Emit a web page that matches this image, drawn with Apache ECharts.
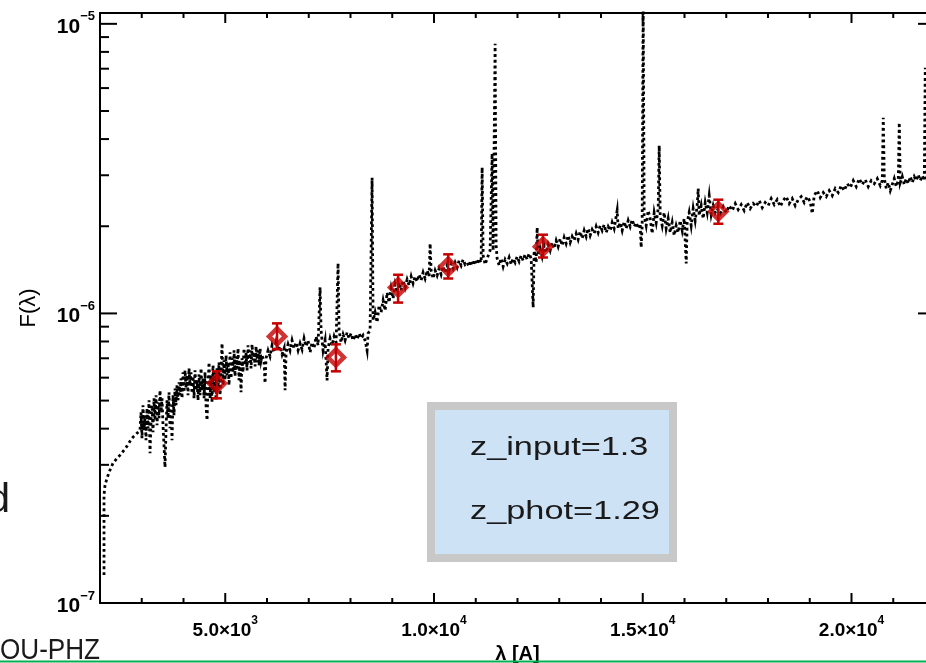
<!DOCTYPE html>
<html><head><meta charset="utf-8">
<script src="https://cdn.jsdelivr.net/npm/echarts@6/dist/echarts.min.js"></script>
<style>html,body{margin:0;padding:0;background:#fff;overflow:hidden}#chart{width:926px;height:663px}</style>
</head><body><div id="chart"></div>
<script>
// Model spectrum: wavelength [Angstrom] and flux [units of 1e-6]
const wavelength = [
2096,2096,2096,2096,2120,2168,2240,2311,2407,2479,2575,2647,2719,2791,2887,2958,
2982,3006,3030,3054,3078,3102,3126,3150,3174,3198,3222,3246,3270,3294,3318,3342,3366,3390,3414,3438,3462,3486,3509,3533,3557,3581,3605,3629,3653,3677,3701,3725,3749,3773,3797,3821,3845,3869,3893,3917,
3941,3965,3989,4013,4037,4061,4085,4108,4132,4156,4180,4204,4228,4252,4276,4300,4324,4348,4372,4396,4420,4444,4468,4492,4516,4540,4564,4588,4612,4636,4660,4684,4707,4731,4755,4779,4803,4827,4851,4875,4899,
4923,4947,4971,4995,5019,5043,5067,5091,5115,5139,5163,5187,5211,5235,5259,5283,5306,5330,5354,5378,5402,5426,5450,5474,5498,5522,5546,5570,5594,5618,5642,5666,5690,5714,5738,5762,5786,5810,5834,5858,
5882,5929,5953,5977,6025,6073,6121,6169,6217,6265,6313,6361,6409,6433,6457,6504,6552,6600,6648,6696,6744,6792,6840,6888,6936,6984,7032,7080,7127,7175,7223,7271,7295,7343,7391,7439,7463,7511,
7559,7607,7655,7702,7726,7774,7822,7870,7918,7966,8014,8062,8110,8158,8206,8254,8301,8349,8397,8421,8469,8517,8541,
8589,8637,8685,8733,8781,8829,8877,8924,8972,9020,9068,
9116,9164,9212,9260,9308,9356,9404,9452,9499,9547,9595,9643,9691,9739,9787,9835,9883,9907,9931,9979,10027,10075,10122,10170,10218,10266,10314,10362,10410,10458,10506,10554,10602,10650,10697,10745,10793,10841,10889,10937,10985,11033,11081,11129,11153,11177,11225,11273,11344,11392,11416,11464,11488,11512,
11560,11608,11656,11704,11752,11800,11848,11895,11943,11991,12039,12087,12135,12183,12231,12279,12327,12375,12399,12447,12471,12495,12542,12590,12638,12686,
12734,12782,12830,12878,12926,12974,13022,13070,13117,13165,13213,13261,13309,13357,13405,13453,13501,13549,13597,13645,13692,13740,13788,13836,13884,13932,13980,14028,14076,14124,14172,14220,14267,14315,14387,14411,14459,14507,14555,14603,14651,14699,14747,14795,14843,14890,14938,14962,14986,15010,15034,
15082,15130,15178,15226,15274,15322,15370,15394,15418,15466,15514,15561,15609,15657,15705,15753,15801,15849,15897,15945,15993,16041,16064,16112,16160,16208,16256,16304,16328,16352,16400,16448,16496,16544,16592,16640,16687,16735,16783,
16855,16927,16999,17071,17143,17215,17286,17358,17430,17502,17574,17646,17718,17790,17862,17933,18005,18077,18149,18221,18293,18365,18437,18508,18580,18652,18724,18796,18868,18940,19012,19060,19107,19179,19251,19323,19395,19467,19539,19611,19683,19754,19826,19898,19970,
20042,20114,20186,20258,20329,20401,20473,20545,20617,20689,20737,20761,20785,20833,20880,20928,20976,21024,21072,21120,21144,21168,21216,21264,21312,21360,21408,21456,21503,21551,21599,21647,21695,21743,21767,21791,21839,21887,21959,22007
];
const flux_1e6 = [
0.125,0.155,0.193,0.236,0.255,0.270,0.288,0.304,0.316,0.324,0.337,0.348,0.362,0.374,0.386,0.395,
0.4557,0.3707,0.4817,0.3950,0.4449,0.3648,0.4704,0.4013,0.5012,0.3291,0.4276,0.4817,0.3888,0.5092,0.4276,0.5215,0.4110,0.4933,0.4345,0.5426,0.4557,0.5092,0.4110,0.3506,0.2944,0.3950,0.5012,0.4345,0.5341,0.4013,0.4817,0.3648,0.5215,0.4449,0.5513,0.4817,0.5646,0.5012,0.5782,0.5215,
0.5969,0.5092,0.6260,0.5341,0.6360,0.5513,0.6113,0.5215,0.6462,0.5646,0.6260,0.5299,0.6064,0.5092,0.6360,0.5426,0.5875,0.5012,0.6161,0.5215,0.6462,0.5426,0.5969,0.5092,0.6260,0.4817,0.4276,0.5646,0.6777,0.5092,0.6113,0.4933,0.6618,0.5341,0.6260,0.5012,0.6462,0.5426,0.6777,0.5215,0.6113,
0.7881,0.5646,0.6886,0.5875,0.7164,0.6113,0.6777,0.5646,0.7337,0.5969,0.6996,0.6260,0.7455,0.6064,0.7108,0.6462,0.7574,0.5875,0.6886,0.5341,0.6996,0.6260,0.7574,0.6618,0.7337,0.6360,0.7756,0.6777,0.7455,0.6462,0.7818,0.6886,0.7337,0.6565,0.7695,0.6777,0.7455,0.6618,0.7574,0.6886,
0.716,0.678,0.574,0.700,0.745,0.711,0.776,0.734,0.794,0.745,0.770,0.722,0.757,0.543,0.734,0.782,0.745,0.807,0.757,0.794,0.745,0.788,0.751,0.820,0.770,0.807,0.734,0.794,0.757,0.833,0.776,1.23,0.874,0.745,0.807,0.587,0.757,0.820,
0.776,0.833,0.794,1.49,0.874,0.794,0.846,0.807,0.860,0.820,0.853,0.807,0.846,0.813,0.853,0.820,0.840,0.807,0.745,0.853,0.874,2.94,0.946,
1.008,0.931,1.066,1.008,1.109,1.024,1.181,1.091,1.220,1.126,1.259,
1.181,1.279,1.200,1.300,1.229,1.310,1.249,1.342,1.269,1.342,1.289,1.363,1.300,1.385,1.320,1.407,1.342,1.743,1.407,1.320,1.407,1.352,1.429,1.363,1.452,1.385,1.464,1.407,1.487,1.429,1.499,1.441,1.523,1.464,1.535,1.476,1.499,1.452,1.523,1.464,1.535,1.476,1.548,1.499,3.19,1.585,1.476,1.548,1.649,3.56,1.649,8.53,1.716,1.548,
1.464,1.548,1.452,1.535,1.487,1.560,1.476,1.548,1.499,1.572,1.511,1.585,1.523,1.598,1.535,1.610,1.548,1.049,1.649,1.499,1.980,1.585,1.676,1.572,1.716,1.623,
1.730,1.649,1.757,1.676,1.785,1.702,1.814,1.716,1.828,1.743,1.858,1.757,1.843,1.785,1.887,1.800,1.918,1.814,1.933,1.843,1.964,1.858,1.948,1.887,1.995,1.902,2.011,1.933,2.027,1.902,1.995,1.933,2.060,1.964,2.266,1.964,2.060,1.933,2.076,1.964,2.093,1.995,2.109,1.995,2.060,1.964,2.043,1.689,2.011,12,2.177,
2.011,2.266,2.126,1.887,2.230,2.060,2.302,3.80,2.177,2.011,2.230,1.964,2.126,1.902,2.060,1.858,2.011,1.902,2.093,1.933,2.126,1.487,2.060,2.230,2.011,2.302,2.093,2.357,2.698,2.177,2.357,2.126,2.414,2.230,2.552,2.195,2.357,2.230,2.302,
2.212,2.339,2.230,2.357,2.266,2.395,2.284,2.376,2.266,2.414,2.302,2.395,2.339,2.453,2.320,2.414,2.357,2.492,2.376,2.472,2.339,2.453,2.532,2.395,2.492,2.357,2.472,2.532,2.414,2.532,2.433,2.212,2.552,2.655,2.512,2.614,2.532,2.655,2.552,2.698,2.614,2.763,2.655,2.807,2.719,
2.875,2.741,2.921,2.785,2.898,2.741,2.875,2.807,2.921,2.763,2.875,4.74,2.921,2.698,2.830,2.655,2.785,2.921,2.741,2.875,4.56,2.830,2.968,2.785,2.921,2.807,2.968,2.830,2.968,2.875,3.015,2.875,2.991,2.875,7.05,2.968,2.852,2.991,2.921,3.015
];
// Photometric points (flux in units of 1e-6)
const photWavelength = [4800, 6240, 7650, 9140, 10340, 12610, 16810];
const photFlux_1e6 = [0.574, 0.833, 0.705, 1.23, 1.45, 1.70, 2.25];
const photErrLow_1e6 = [0.509, 0.752, 0.631, 1.09, 1.32, 1.56, 2.04];
const photErrHigh_1e6 = [0.631, 0.924, 0.782, 1.36, 1.60, 1.87, 2.47];
// Axes
const xRange = [2000, 22000];
const yRange = [1e-7, 1.09e-5];
const xMajorTicks = [5000, 10000, 15000, 20000];
const xTickMantissa = ['5.0×10', '1.0×10', '1.5×10', '2.0×10'];
const xTickExponent = ['3', '4', '4', '4'];
const xMinorTicks = [3000,4000,6000,7000,8000,9000,11000,12000,13000,14000,16000,17000,18000,19000,21000];
const yMajorTicks = [1e-7, 1e-6, 1e-5];
const yTickExponent = ['−7', '−6', '−5'];
const yMinorTicks = [2e-7,3e-7,4e-7,5e-7,6e-7,7e-7,8e-7,9e-7,2e-6,3e-6,4e-6,5e-6,6e-6,7e-6,8e-6,9e-6];
const xTitle = 'λ [A]';
const yTitle = 'F(λ)';
const boxLines = ['z_input=1.3', 'z_phot=1.29'];
const slideTexts = ['d', 'OU-PHZ'];

const spectrum = wavelength.map((w, i) => [w, flux_1e6[i] * 1e-6]);
const phot = photWavelength.map((w, i) => [w, photFlux_1e6[i] * 1e-6]);
const photErr = photWavelength.map((w, i) => [w, photErrLow_1e6[i] * 1e-6, photErrHigh_1e6[i] * 1e-6]);

const FONT = 'Liberation Sans';
const RED = '#c40000';

function xTicks(values, len) {
  return {
    type: 'custom', silent: true, z: 6, clip: false,
    data: values.map(v => [v, yRange[0]]),
    renderItem: (params, api) => {
      const cs = params.coordSys;
      const x = api.coord([api.value(0), yRange[0]])[0];
      const st = { stroke: '#000', lineWidth: 2 };
      return { type: 'group', children: [
        { type: 'line', shape: { x1: x, y1: cs.y + cs.height, x2: x, y2: cs.y + cs.height - len }, style: st },
        { type: 'line', shape: { x1: x, y1: cs.y, x2: x, y2: cs.y + len }, style: st }
      ]};
    }
  };
}
function yTicks(values, len) {
  return {
    type: 'custom', silent: true, z: 6, clip: false,
    data: values.map(v => [xRange[0], v]),
    renderItem: (params, api) => {
      const cs = params.coordSys;
      const y = api.coord([xRange[0], api.value(1)])[1];
      const st = { stroke: '#000', lineWidth: 2 };
      return { type: 'group', children: [
        { type: 'line', shape: { x1: cs.x, y1: y, x2: cs.x + len, y2: y }, style: st },
        { type: 'line', shape: { x1: cs.x + cs.width, y1: y, x2: cs.x + cs.width - len, y2: y }, style: st }
      ]};
    }
  };
}

const chart = echarts.init(document.getElementById('chart'), null, { renderer: 'canvas' });
chart.setOption({
  animation: false,
  backgroundColor: '#fff',
  grid: { left: 100, top: 13, width: 835, height: 590, containLabel: false, outerBoundsMode: 'none' },
  xAxis: [{
    type: 'value', position: 'bottom', min: xRange[0], max: xRange[1], interval: 1000,
    axisLine: { show: true, onZero: false, lineStyle: { color: '#000', width: 2 } },
    axisTick: { show: false }, splitLine: { show: false },
    axisLabel: {
      margin: 12, color: '#000',
      formatter: v => {
        const i = xMajorTicks.findIndex(t => Math.abs(t - v) < 1e-6);
        return i < 0 ? '' : '{b|' + xTickMantissa[i] + '}{s|' + xTickExponent[i] + '}';
      },
      rich: {
        b: { fontSize: 19, fontWeight: 'bold', fontFamily: FONT, color: '#000', lineHeight: 25, verticalAlign: 'bottom' },
        s: { fontSize: 12, fontWeight: 'bold', fontFamily: FONT, color: '#000', lineHeight: 12, verticalAlign: 'top' }
      }
    },
    name: xTitle, nameLocation: 'middle', nameGap: 37,
    nameTextStyle: { fontSize: 20, fontWeight: 'bold', fontFamily: FONT, color: '#000' }
  }, {
    type: 'value', position: 'top', min: xRange[0], max: xRange[1], interval: 1000,
    axisLine: { show: true, onZero: false, lineStyle: { color: '#000', width: 2 } },
    axisTick: { show: false }, axisLabel: { show: false }, splitLine: { show: false }
  }],
  yAxis: [{
    type: 'log', logBase: 10, position: 'left', min: yRange[0], max: yRange[1],
    axisLine: { show: true, lineStyle: { color: '#000', width: 2 } },
    axisTick: { show: false }, splitLine: { show: false }, minorTick: { show: false },
    axisLabel: {
      margin: 5, color: '#000',
      formatter: v => {
        const i = yMajorTicks.findIndex(t => Math.abs(t - v) / t < 1e-6);
        return i < 0 ? '' : '{b|10}{s|' + yTickExponent[i] + '}';
      },
      rich: {
        b: { fontSize: 21, fontWeight: 'bold', fontFamily: FONT, color: '#000', lineHeight: 27, verticalAlign: 'bottom' },
        s: { fontSize: 13, fontWeight: 'bold', fontFamily: FONT, color: '#000', lineHeight: 13, verticalAlign: 'top' }
      }
    },
    name: yTitle, nameLocation: 'middle', nameRotate: 90, nameGap: 60,
    nameTextStyle: { fontSize: 22, fontFamily: FONT, color: '#000' }
  }, {
    type: 'log', logBase: 10, position: 'right', min: yRange[0], max: yRange[1],
    axisLine: { show: true, lineStyle: { color: '#000', width: 2 } },
    axisTick: { show: false }, axisLabel: { show: false }, splitLine: { show: false }
  }],
  series: [
    {
      type: 'line', data: spectrum, showSymbol: false, symbol: 'none', clip: true, z: 2,
      lineStyle: { color: '#000', width: 2.8, type: [2.8, 3.0], cap: 'butt', join: 'miter' },
      silent: true
    },
    xTicks(xMajorTicks, 10), xTicks(xMinorTicks, 5),
    yTicks(yMajorTicks, 17), yTicks(yMinorTicks, 9),
    {
      type: 'custom', silent: true, z: 4, data: photErr,
      renderItem: (params, api) => {
        const lo = api.coord([api.value(0), api.value(1)]);
        const hi = api.coord([api.value(0), api.value(2)]);
        const st = { stroke: RED, lineWidth: 2.5 };
        const c = 5;
        return { type: 'group', children: [
          { type: 'line', shape: { x1: lo[0], y1: lo[1], x2: hi[0], y2: hi[1] }, style: st },
          { type: 'line', shape: { x1: lo[0] - c, y1: lo[1], x2: lo[0] + c, y2: lo[1] }, style: st },
          { type: 'line', shape: { x1: hi[0] - c, y1: hi[1], x2: hi[0] + c, y2: hi[1] }, style: st }
        ]};
      }
    },
    {
      type: 'scatter', data: phot, symbol: 'diamond', symbolSize: 16, z: 5, silent: true,
      itemStyle: { color: 'rgba(255,255,255,0)', borderColor: RED, borderWidth: 4.5 }
    }
  ],
  graphic: [
    { type: 'rect', shape: { x: 431, y: 406, width: 242, height: 152 },
      style: { fill: '#cee2f6', stroke: '#c8c8c8', lineWidth: 8 }, z: 100 },
    { type: 'text', x: 470, y: 448, scaleX: 1.32, z: 101,
      style: { text: boxLines[0], font: '26px "Liberation Sans"', fill: '#1a1a1a', align: 'left', verticalAlign: 'middle' } },
    { type: 'text', x: 470, y: 512, scaleX: 1.32, z: 101,
      style: { text: boxLines[1], font: '26px "Liberation Sans"', fill: '#1a1a1a', align: 'left', verticalAlign: 'middle' } },
    { type: 'text', x: 10, y: 521, z: 101,
      style: { text: slideTexts[0], font: '41px "Liberation Sans"', fill: '#1a1a1a', align: 'right', verticalAlign: 'bottom' } },
    { type: 'text', x: 0, y: 666, scaleX: 0.87, z: 101,
      style: { text: slideTexts[1], font: '30px "Liberation Sans"', fill: '#1a1a1a', align: 'left', verticalAlign: 'bottom' } },
    { type: 'line', shape: { x1: 0, y1: 661.5, x2: 926, y2: 661.5 }, style: { stroke: '#00b050', lineWidth: 2 }, z: 102 }
  ]
});
</script>
</body></html>
